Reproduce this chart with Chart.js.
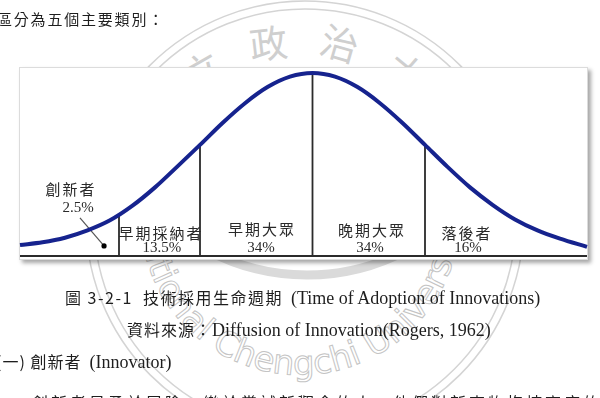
<!DOCTYPE html>
<html>
<head>
<meta charset="utf-8">
<script src="https://cdn.jsdelivr.net/npm/chart.js@4.4.0/dist/chart.umd.min.js"></script>
<style>
  html, body { margin: 0; padding: 0; background: #fff; }
  body { width: 600px; height: 398px; position: relative; overflow: hidden; }
  #seal { position: absolute; left: 0; top: 0; z-index: 0; }
  #box { position: absolute; left: 19px; top: 67px; width: 567px; height: 191px; background: #fff;
         border: 1px solid #dcdcdc; box-shadow: 3px 3px 4px rgba(0,0,0,0.35); z-index: 1; }
  #adoption { position: absolute; left: 0; top: 0; z-index: 2; }
  .txt { position: absolute; white-space: pre; z-index: 3; color: #1e1e1e; line-height: 20px; }
  .cjk { font-family: "Noto Sans CJK TC", sans-serif; font-size: 15px; letter-spacing: 1.8px; }
  .ser { font-family: "Liberation Serif", serif; font-size: 18px; }
</style>
</head>
<body>
<svg id="seal" width="600" height="398">
  <defs>
    <path id="sealTop" d="M 138 220 A 165 165 0 0 1 468 220"/>
    <path id="sealBottom" d="M 149.6 160.3 A 160 160 0 1 0 450.4 160.3"/>
  </defs>
  <circle cx="305" cy="220" r="219" fill="none" stroke="#d4d4d4" stroke-width="1.5"/>
  <circle cx="305" cy="220" r="211" fill="none" stroke="#d4d4d4" stroke-width="1.5"/>
  <path d="M 200.5 246.5 A 213 213 0 0 0 413.5 246.5" fill="none" stroke="#dadada" stroke-width="9"/>
  <text font-family="Noto Sans CJK TC" font-size="38" fill="#cfcfcf" letter-spacing="28" text-anchor="middle">
    <textPath href="#sealTop" startOffset="273">國立政治大學</textPath>
  </text>
  <text font-family="DejaVu Sans" font-size="34" fill="none" stroke="#c4c4c4" stroke-width="1" text-anchor="middle">
    <textPath href="#sealBottom" startOffset="50%">National Chengchi University</textPath>
  </text>
</svg>

<div id="box"></div>
<canvas id="adoption" width="600" height="398"></canvas>

<div class="txt cjk" style="left:-3px; top:9px;">區分為五個主要類別：</div>
<div class="txt" style="left:65px; top:287px;"><span class="cjk" style="font-size:16px;letter-spacing:1.5px">圖 3-2-1  技術採用生命週期</span>  <span class="ser">(Time of Adoption of Innovations)</span></div>
<div class="txt" style="left:127px; top:319px;"><span class="cjk" style="font-size:16px;letter-spacing:1px">資料來源：</span><span class="ser">Diffusion of Innovation(Rogers, 1962)</span></div>
<div class="txt" style="left:-4px; top:351px;"><span class="cjk" style="font-size:16px;letter-spacing:1px">(一) 創新者</span>  <span class="ser">(Innovator)</span></div>
<div class="txt cjk" style="left:32px; top:392px; font-size:16px; letter-spacing:3px;">創新者是勇於冒險、樂於嘗試新觀念的人，他們對新事物抱持高度的興趣。</div>

<script>
document.addEventListener('DOMContentLoaded', function () {
    // bell curve: x in standard deviations, y relative to the peak
    var curveX = [-2.6, -2.4, -2.2, -2.0, -1.8, -1.6, -1.4, -1.2, -1.0, -0.8, -0.6, -0.4, -0.2, 0,
                  0.2, 0.4, 0.6, 0.8, 1.0, 1.2, 1.4, 1.6, 1.8, 2.0, 2.2, 2.44];
    var curveY = [0.06, 0.075, 0.10, 0.14, 0.195, 0.275, 0.375, 0.49, 0.607, 0.727, 0.835, 0.923, 0.98, 1.0,
                  0.98, 0.923, 0.835, 0.727, 0.607, 0.487, 0.375, 0.28, 0.2, 0.14, 0.095, 0.05];

    // category borders and where they meet the curve
    var dividerX = [-1.72, -1.0, 0, 1.0];
    var dividerTop = [0.226, 0.607, 1.0, 0.607];

    var groups = ['創新者', '早期採納者', '早期大眾', '晚期大眾', '落後者'];
    var shares = [2.5, 13.5, 34, 34, 16];

    // where each name / share label sits (axis units)
    var nameAt = [[-2.156, 0.366], [-1.356, 0.126], [-0.458, 0.148], [0.52, 0.142], [1.364, 0.126]];
    var shareAt = [[-2.084, 0.262], [-1.338, 0.044], [-0.458, 0.044], [0.511, 0.044], [1.382, 0.044]];
    var pointerAt = [[-2.067, 0.208], [-1.853, 0.055]];

    var curve = curveX.map(function (x, i) { return { x: x, y: curveY[i] }; });
    var dividers = [];
    dividerX.forEach(function (x, i) {
        dividers.push({ x: x, y: 0 }, { x: x, y: dividerTop[i] }, { x: x, y: null });
    });
    var xMin = curveX[0], xMax = curveX[curveX.length - 1];

    var groupLabels = {
        id: 'groupLabels',
        afterDatasetsDraw: function (chart) {
            var c = chart.ctx, sx = chart.scales.x, sy = chart.scales.y;
            c.save();
            c.textAlign = 'center';
            c.textBaseline = 'middle';
            c.fillStyle = '#2a2a2a';
            groups.forEach(function (g, i) {
                c.font = '15px "Noto Sans CJK TC"';
                c.letterSpacing = '2px';
                c.fillText(g, sx.getPixelForValue(nameAt[i][0]) + 1, sy.getPixelForValue(nameAt[i][1]));
                c.font = '15px "Liberation Serif"';
                c.letterSpacing = '0px';
                c.fillText(shares[i] + '%', sx.getPixelForValue(shareAt[i][0]), sy.getPixelForValue(shareAt[i][1]));
            });
            c.restore();
        }
    };

    var ctx = document.getElementById('adoption').getContext('2d');
    new Chart(ctx, {
        type: 'line',
        data: {
            datasets: [{
                data: curve,
                borderColor: '#16238e',
                borderWidth: 4,
                pointRadius: 0,
                cubicInterpolationMode: 'monotone',
                clip: false
            }, {
                data: pointerAt.map(function (p) { return { x: p[0], y: p[1] }; }),
                borderColor: '#555',
                borderWidth: 1.2,
                pointRadius: [0, 2.6],
                pointBackgroundColor: '#000',
                pointBorderWidth: 0
            }, {
                data: dividers,
                borderColor: '#2b2b2b',
                borderWidth: 1.8,
                pointRadius: 0,
                spanGaps: false,
                clip: false
            }, {
                data: [{ x: xMin, y: 0 }, { x: xMax, y: 0 }],
                borderColor: '#2b2b2b',
                borderWidth: 2,
                pointRadius: 0,
                clip: false
            }]
        },
        options: {
            responsive: false,
            animation: false,
            devicePixelRatio: 1,
            layout: { padding: { left: 20, right: 13, top: 73, bottom: 142 } },
            scales: {
                x: { type: 'linear', min: xMin, max: xMax, display: false },
                y: { min: 0, max: 1, display: false }
            },
            plugins: { legend: { display: false }, tooltip: { enabled: false } }
        },
        plugins: [groupLabels]
    });
});
</script>
</body>
</html>
